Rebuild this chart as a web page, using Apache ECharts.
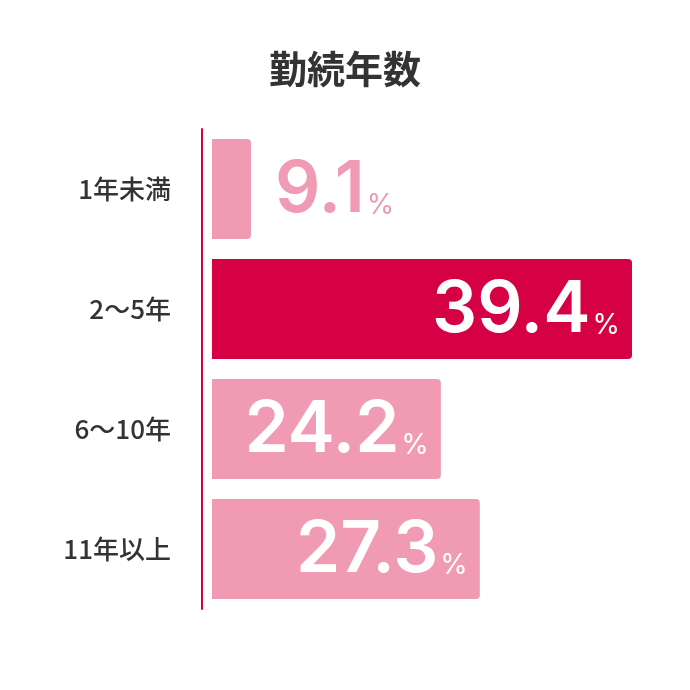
<!DOCTYPE html>
<html>
<head>
<meta charset="utf-8">
<script src="https://cdn.jsdelivr.net/npm/echarts@6/dist/echarts.min.js"></script>
<style>html,body{margin:0;padding:0;background:#fff;}#c{width:690px;height:690px;}</style>
</head>
<body>
<div id="c"></div>
<script>
var titleText = '勤続年数';
var categories = ['1年未満', '2～5年', '6～10年', '11年以上'];
var values = [9.1, 39.4, 24.2, 27.3];
var highlightIndex = 1;

var PINK = '#f09ab4';
var RED = '#d60045';

var chart = echarts.init(document.getElementById('c'));
var data = values.map(function (v, i) {
  var hi = i === highlightIndex;
  var small = v < 15;
  return {
    value: v,
    itemStyle: { color: hi ? RED : PINK },
    label: {
      position: small ? 'right' : 'insideRight',
      distance: small ? 24 : 12,
      rich: {
        n: { color: small ? PINK : '#fff' },
        p: { color: small ? PINK : '#fff' }
      }
    }
  };
});

chart.setOption({
  animation: false,
  title: {
    text: titleText,
    left: 'center',
    top: 45,
    textStyle: {
      fontFamily: 'Noto Sans CJK JP',
      fontSize: 38,
      fontWeight: 'bold',
      color: '#333'
    }
  },
  grid: { left: 212, right: 58, top: 129, bottom: 81 },
  xAxis: {
    type: 'value',
    min: 6,
    max: 39.4,
    show: false
  },
  yAxis: {
    type: 'category',
    data: categories,
    inverse: true,
    offset: 10,
    axisLine: { show: true, lineStyle: { color: RED, width: 2 } },
    axisTick: { show: false },
    axisLabel: {
      margin: 31,
      fontFamily: 'Noto Sans CJK JP',
      fontSize: 26,
      fontWeight: 500,
      color: '#333'
    }
  },
  series: [{
    type: 'bar',
    data: data,
    barWidth: 100,
    itemStyle: { borderRadius: [0, 4, 4, 0] },
    label: {
      show: true,
      formatter: function (p) { return '{n|' + p.value.toFixed(1) + '}{p|%}'; },
      rich: {
        n: { fontFamily: 'Inter', fontSize: 71, fontWeight: 600, lineHeight: 74, verticalAlign: 'bottom' },
        p: { fontFamily: 'Inter', fontSize: 28, fontWeight: 400, lineHeight: 28, verticalAlign: 'bottom', padding: [0, 0, 6, 2] }
      }
    }
  }]
});
</script>
</body>
</html>
